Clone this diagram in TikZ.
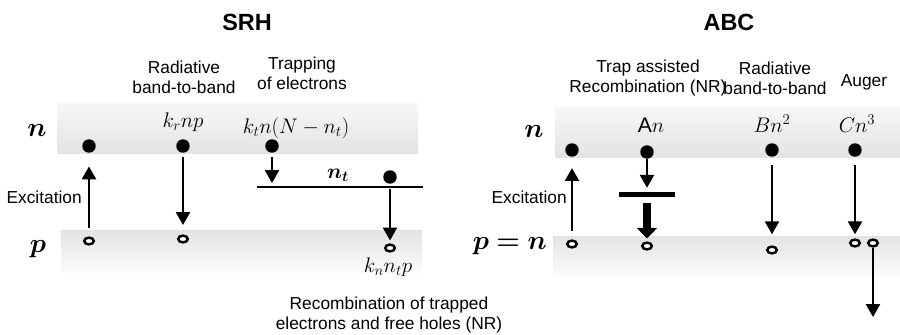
\RequirePackage{fix-cm}
\documentclass[tikz,border=0pt]{standalone}
\usepackage{amsmath}
\usepackage{bm}
\usepackage{fontspec}
\setmainfont{Liberation Sans}
\usetikzlibrary{arrows.meta, shapes.geometric}

\tikzset{
  elec/.style={circle, fill=black, inner sep=0pt, minimum size=11.5pt},
  hole/.style={ellipse, draw=black, line width=2.1pt, fill=white, inner sep=0pt,
               minimum width=8.2pt, minimum height=5.8pt},
  arr/.style={line width=1.7pt, -{Triangle[width=12pt,length=11pt]}},
  fatarr/.style={line width=6pt, -{Triangle[width=17pt,length=9pt]}},
  txt/.style={align=center, inner sep=0pt, font=\fontsize{14.8}{17}\selectfont},
  ttl/.style={inner sep=0pt, font=\fontsize{20}{24}\selectfont\bfseries},
  rate/.style={inner sep=0pt, font=\fontsize{18}{21}\selectfont},
  bandlbl/.style={inner sep=0pt, font=\fontsize{23}{26}\selectfont},
  upband/.style={top color=gray!6, bottom color=gray!22},
  lowband/.style={top color=gray!22, bottom color=gray!3}
}

\begin{document}
\begin{tikzpicture}[x=0.03cm, y=-0.03cm]
  \useasboundingbox (0,0) rectangle (900,334);

  % SRH
  \shade[upband]  (57,102) rectangle (418,153);
  \shade[lowband] (61,230) rectangle (422,272);
  \node[ttl] (srhTitle) at (247,22) {SRH};
  \node[txt] (srhRadLbl)  at (184,77) {Radiative\\band-to-band};
  \node[txt] (srhTrapLbl) at (302,73) {Trapping\\of electrons};
  \node[bandlbl] (srhN) at (37,131) {$\bm{n}$};
  \node[bandlbl] (srhP) at (38,249) {$\bm{p}$};
  \node[elec] (eSrhA) at (89,146) {};
  \node[elec] (eSrhB) at (183,146) {};
  \node[elec] (eSrhC) at (272,146) {};
  \node[elec] (eSrhT) at (390,177) {};
  \node[hole] (hSrhA) at (89,241) {};
  \node[hole] (hSrhB) at (183,239) {};
  \node[hole] (hSrhC) at (390,248) {};
  \coordinate (trapL) at (257,187);
  \coordinate (trapR) at (423,187);
  \draw[line width=1.7pt] (trapL) -- (trapR);
  \node[rate] (srhKr) at (183,122) {$k_r np$};
  \node[rate] (srhKt) at (296,128) {$k_t n(N-n_t)$};
  \node[rate] (srhNt) at (338,175) {$\bm{n_t}$};
  \node[rate] (srhKn) at (388,267) {$k_n n_t p$};
  \node[txt, anchor=east] (srhExc) at (82,197) {Excitation};
  \node[txt] (srhRecLbl) at (389,315) {Recombination of trapped\\electrons and free holes (NR)};
  \draw[arr, shorten <=7pt, shorten >=11.5pt] (hSrhA) -- (eSrhA);
  \draw[arr, shorten <=3.5pt, shorten >=8pt] (eSrhB) -- (hSrhB);
  \draw[arr, shorten <=3.5pt, shorten >=3.4pt] (eSrhC) -- (eSrhC |- trapL);
  \draw[arr, shorten <=4pt, shorten >=2.5pt] (eSrhT) -- (hSrhC);

  % ABC
  \shade[upband]  (555,107) rectangle (900,157);
  \shade[lowband] (553,236) rectangle (900,275);
  \node[ttl] (abcTitle) at (729,22) {ABC};
  \node[txt] (abcTrapLbl) at (648,78) {Trap assisted\\Recombination (NR)};
  \node[txt] (abcRadLbl)  at (775,78) {Radiative\\band-to-band};
  \node[txt] (abcAugLbl)  at (864,82) {Auger};
  \node[bandlbl] (abcN) at (534,132) {$\bm{n}$};
  \node[bandlbl, anchor=east] (abcP) at (547,246) {$\bm{p=n}$};
  \node[elec] (eAbcA) at (572,150) {};
  \node[elec] (eAbcB) at (647,152) {};
  \node[elec] (eAbcC) at (772,150) {};
  \node[elec] (eAbcD) at (855,150) {};
  \node[hole] (hAbcA) at (572,244) {};
  \node[hole] (hAbcB) at (647,246) {};
  \node[hole] (hAbcC) at (772,250) {};
  \node[hole] (hAbcD) at (855,243) {};
  \node[hole] (hAbcE) at (873,243) {};
  \coordinate (augerEnd) at (873,317);
  \node[fill=black, inner sep=0pt, minimum width=48.5pt, minimum height=4.3pt] (trapBar) at (647,194.5) {};
  \node[rate] (abcA) at (651,125) {A$n$};
  \node[rate] (abcB) at (772,124) {$Bn^2$};
  \node[rate] (abcC) at (857,124) {$Cn^3$};
  \node[txt, anchor=east] (abcExc) at (567,197) {Excitation};
  \draw[arr, shorten <=7pt, shorten >=9.5pt] (hAbcA) -- (eAbcA);
  \draw[arr, shorten >=3.4pt] (eAbcB) -- (trapBar);
  \draw[fatarr, shorten <=5pt, shorten >=2.5pt] (trapBar) -- (hAbcB);
  \draw[arr, shorten <=7pt, shorten >=9.5pt] (eAbcC) -- (hAbcC);
  \draw[arr, shorten <=7pt, shorten >=3.5pt] (eAbcD) -- (hAbcD);
  \draw[arr] (hAbcE) -- (augerEnd);
\end{tikzpicture}
\end{document}
